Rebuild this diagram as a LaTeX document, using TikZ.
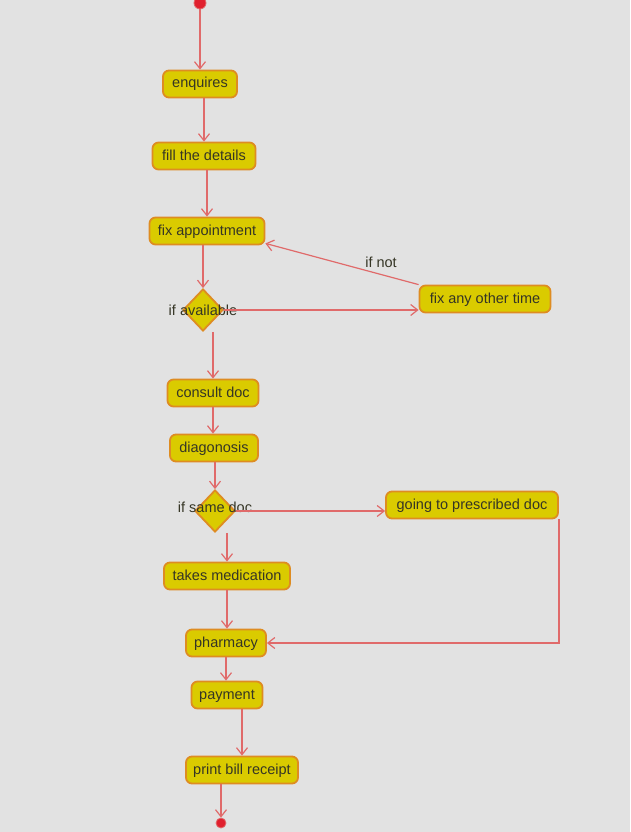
\documentclass[tikz,border=0pt]{standalone}
\usepackage{fontspec}
\setmainfont{Liberation Sans}
\usetikzlibrary{shapes.geometric,arrows.meta}
\definecolor{bg}{HTML}{E2E2E2}
\definecolor{boxfill}{HTML}{DACB00}
\definecolor{boxline}{HTML}{DE8C22}
\definecolor{conn}{HTML}{E06A6A}
\definecolor{dotred}{HTML}{E0202E}
\definecolor{txt}{HTML}{353525}
\begin{document}
\begin{tikzpicture}[x=1pt,y=-1pt,
  act/.style={draw=boxline, fill=boxfill, rounded corners=6pt, line width=1.8pt,
    minimum height=27pt, inner sep=2pt, text height=10.5pt, text depth=2.5pt,
    font=\fontsize{14.5}{16}\selectfont, text=txt},
  dec/.style={diamond, draw=boxline, fill=boxfill, line width=1.8pt,
    minimum width=40pt, minimum height=42pt, inner sep=0pt},
  lbl/.style={font=\fontsize{14.5}{16}\selectfont, text=txt, inner sep=0pt},
  arr/.style={draw=conn, line width=1.2pt, -{Straight Barb[length=7pt,width=11pt]}},
  dot/.style={circle, fill=dotred, draw=conn, line width=0.8pt, minimum size=12pt, inner sep=0pt}]
\fill[bg] (0,0) rectangle (630,832);
\useasboundingbox (0,0) rectangle (630,832);

\node[dot] (start) at (200,3) {};
\node[act, minimum width=74pt] (enq) at (200,84) {enquires};
\node[act, minimum width=103pt] (fill) at (204,156) {fill the details};
\node[act, minimum width=115pt] (fix) at (207,231) {fix appointment};
\node[dec] (d1) at (203,310) {};
\node[lbl] (d1l) at (203,310) {if available};
\node[act, minimum width=131pt] (other) at (485,299) {fix any other time};
\node[act, minimum width=91pt] (consult) at (213,393) {consult doc};
\node[act, minimum width=88pt] (diag) at (214,448) {diagonosis};
\node[dec] (d2) at (215,511) {};
\node[lbl] (d2l) at (215,507) {if same doc};
\node[act, minimum width=172pt] (going) at (472,505) {going to prescribed doc};
\node[act, minimum width=126pt] (takes) at (227,576) {takes medication};
\node[act, minimum width=80pt] (pharm) at (226,643) {pharmacy};
\node[act, minimum width=71pt] (pay) at (227,695) {payment};
\node[act, minimum width=112pt] (print) at (242,770) {print bill receipt};
\node[dot, minimum size=10pt] (end) at (221,823) {};
\node[lbl] (ifnot) at (381,262) {if not};

\draw[arr] (start) -- (enq.north);
\draw[arr] (enq.south -| fill) -- (fill.north);
\draw[arr] (fill.south -| fix) -- (fix.north);
\draw[arr] (fix.south -| d1) -- (d1.north);
\draw[arr] (d1.south -| consult) -- (consult.north);
\draw[arr] (consult.south) -- (consult.south |- diag.north);
\draw[arr] (diag.south -| d2) -- (d2.north);
\draw[arr] (d2.south -| takes) -- (takes.north);
\draw[arr] (takes.south) -- (takes.south |- pharm.north);
\draw[arr] (pharm.south) -- (pharm.south |- pay.north);
\draw[arr] (pay.south -| print) -- (print.north);
\draw[arr] (print.south -| end) -- (end.north);
\draw[arr] (other.north west) -- ([yshift=2pt]fix.south east);
\draw[arr] (d1.east) -- (d1.east -| other.west);
\draw[arr] (d2.east) -- (d2.east -| going.west);
\draw[arr] (going.south east) |- (pharm.east);
\end{tikzpicture}
\end{document}
